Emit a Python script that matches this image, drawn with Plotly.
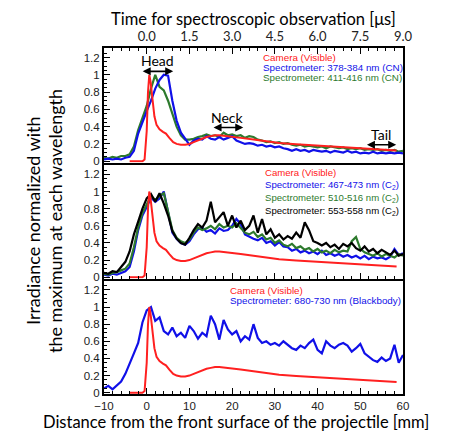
import plotly.graph_objects as go

# ---------------- data ----------------
x_spec = list(range(-10, 61))  # mm

cn_378_384 = [0.02, 0.03, 0.02, 0.03, 0.02, 0.04, 0.05, 0.12, 0.32, 0.46,
              0.58, 0.70, 0.84, 0.94, 1.00, 0.99, 0.70, 0.47, 0.33, 0.26,
              0.19, 0.24, 0.26, 0.25, 0.29, 0.26, 0.25, 0.28, 0.25, 0.27,
              0.29, 0.24, 0.22, 0.20, 0.21, 0.20, 0.18, 0.19, 0.17, 0.18,
              0.16, 0.17, 0.15, 0.14, 0.12, 0.14, 0.12, 0.13, 0.11, 0.13,
              0.12, 0.11, 0.12, 0.10, 0.12, 0.11, 0.10, 0.12, 0.10, 0.11,
              0.09, 0.10, 0.09, 0.11, 0.09, 0.10, 0.09, 0.10, 0.09, 0.10, 0.09]

cn_411_416 = [0.04, 0.03, 0.05, 0.04, 0.06, 0.06, 0.08, 0.17, 0.36, 0.50,
              0.64, 0.84, 1.00, 0.86, 0.82, 0.70, 0.55, 0.40, 0.30, 0.25,
              0.25, 0.26, 0.28, 0.29, 0.31, 0.29, 0.30, 0.28, 0.33, 0.30,
              0.31, 0.29, 0.30, 0.27, 0.29, 0.28, 0.25, 0.24, 0.22, 0.23,
              0.21, 0.22, 0.20, 0.21, 0.19, 0.18, 0.19, 0.17, 0.18, 0.17,
              0.16, 0.17, 0.15, 0.17, 0.16, 0.15, 0.16, 0.14, 0.15, 0.14,
              0.15, 0.13, 0.14, 0.13, 0.14, 0.12, 0.13, 0.12, 0.13, 0.11, 0.12]

c2_467_473 = [0.03, 0.02, 0.04, 0.03, 0.05, 0.07, 0.12, 0.30, 0.55, 0.72,
              0.82, 0.93, 0.88, 0.92, 1.00, 0.74, 0.52, 0.45, 0.40, 0.38,
              0.42, 0.50, 0.56, 0.58, 0.53, 0.55, 0.51, 0.57, 0.54, 0.55,
              0.60, 0.68, 0.62, 0.50, 0.47, 0.45, 0.43, 0.46, 0.40, 0.42,
              0.37, 0.41, 0.36, 0.35, 0.31, 0.33, 0.29, 0.31, 0.28, 0.30,
              0.27, 0.31, 0.26, 0.28, 0.25, 0.27, 0.24, 0.26, 0.23, 0.25,
              0.22, 0.25, 0.21, 0.24, 0.22, 0.23, 0.21, 0.24, 0.33, 0.26, 0.28]

c2_510_516 = [0.04, 0.03, 0.05, 0.06, 0.08, 0.10, 0.16, 0.35, 0.58, 0.75,
              0.85, 0.95, 0.90, 0.95, 0.98, 0.78, 0.55, 0.46, 0.42, 0.40,
              0.44, 0.52, 0.58, 0.55, 0.57, 0.60, 0.56, 0.62, 0.58, 0.60,
              0.58, 0.63, 0.57, 0.52, 0.50, 0.53, 0.47, 0.50, 0.44, 0.46,
              0.40, 0.43, 0.38, 0.36, 0.39, 0.34, 0.36, 0.32, 0.34, 0.30,
              0.33, 0.29, 0.31, 0.28, 0.32, 0.29, 0.31, 0.30, 0.42, 0.47,
              0.33, 0.29, 0.27, 0.25, 0.28, 0.24, 0.27, 0.25, 0.23, 0.27, 0.25]

c2_553_558 = [0.05, 0.04, 0.07, 0.06, 0.12, 0.18, 0.30, 0.50, 0.65, 0.80,
              0.92, 0.97, 0.88, 0.98, 0.86, 0.72, 0.54, 0.45, 0.40, 0.38,
              0.46, 0.55, 0.62, 0.58, 0.66, 0.88, 0.64, 0.70, 0.76, 0.60,
              0.72, 0.58, 0.66, 0.55, 0.60, 0.72, 0.52, 0.68, 0.50, 0.56,
              0.46, 0.50, 0.44, 0.48, 0.45, 0.52, 0.46, 0.64, 0.55, 0.42,
              0.40, 0.37, 0.40, 0.35, 0.38, 0.33, 0.39, 0.36, 0.40, 0.34,
              0.31, 0.36, 0.30, 0.33, 0.28, 0.32, 0.29, 0.26, 0.31, 0.25, 0.27]

bb_680_730 = [0.05, 0.08, 0.04, 0.09, 0.13, 0.22, 0.35, 0.46, 0.58, 0.82,
              0.96, 1.00, 0.84, 0.88, 0.72, 0.68, 0.76, 0.66, 0.70, 0.64,
              0.78, 0.72, 0.63, 0.70, 0.66, 0.90, 0.80, 0.62, 0.85, 0.74,
              0.68, 0.72, 0.60, 0.66, 0.62, 0.80, 0.64, 0.58, 0.60, 0.56,
              0.58, 0.55, 0.60, 0.56, 0.52, 0.50, 0.55, 0.52, 0.58, 0.62,
              0.50, 0.46, 0.60, 0.55, 0.52, 0.56, 0.58, 0.55, 0.48, 0.52,
              0.57, 0.46, 0.42, 0.38, 0.36, 0.41, 0.37, 0.40, 0.56, 0.35, 0.44]

x_cam = [-4, -1, -0.5, 0, 0.3, 0.6, 0.9, 1.3, 1.8, 2.3, 3, 3.8, 4.5, 5.3,
         6.2, 7, 8, 9, 10, 11, 12, 13, 14, 15, 16, 17, 18, 20, 22, 25, 28,
         31, 35, 40, 45, 50, 55, 58.5]
camera = [0, 0, 0.02, 0.35, 0.80, 1.00, 0.92, 0.72, 0.52, 0.42, 0.37, 0.34,
          0.32, 0.27, 0.22, 0.20, 0.19, 0.19, 0.20, 0.22, 0.24, 0.26, 0.28,
          0.29, 0.30, 0.30, 0.295, 0.285, 0.27, 0.25, 0.23, 0.21, 0.195,
          0.18, 0.165, 0.15, 0.135, 0.125]

x_ticks = [-10, 0, 10, 20, 30, 40, 50, 60]
time_tick_labels = ["", "0.0", "1.5", "3.0", "4.5", "6.0", "7.5", "9.0"]
y_ticks = [0, 0.2, 0.4, 0.6, 0.8, 1, 1.2]

regions = ["Head", "Neck", "Tail"]
region_start = [-1.3, 15.3, 51.2]
region_end = [6.2, 22.6, 58.4]
region_level = [1.04, 0.39, 0.19]

# ---------------- figure ----------------
RED = "#ff2020"
BLUE = "#1010e8"
GREEN = "#2d7a2d"
BLACK = "#000000"

fig = go.Figure()

def add(x, y, color, ax, width=2.2):
    fig.add_trace(go.Scatter(x=x, y=y, mode="lines", line=dict(color=color, width=width),
                             xaxis=ax[0], yaxis=ax[1], showlegend=False, hoverinfo="skip"))

# panel 1
add(x_spec, cn_411_416, GREEN, ("x", "y"))
add(x_spec, cn_378_384, BLUE, ("x", "y"))
add(x_cam, camera, RED, ("x", "y"), 2.0)
# panel 2
add(x_spec, c2_467_473, BLUE, ("x2", "y2"))
add(x_spec, c2_510_516, GREEN, ("x2", "y2"))
add(x_spec, c2_553_558, BLACK, ("x2", "y2"))
add(x_cam, camera, RED, ("x2", "y2"), 2.0)
# panel 3
add(x_spec, bb_680_730, BLUE, ("x3", "y3"))
add(x_cam, camera, RED, ("x3", "y3"), 2.0)

H = 431
top_m, bot_m = 40, 45
plot_h = H - top_m - bot_m
def dom(t, b):
    return [1 - b / plot_h, 1 - t / plot_h]

tickfont = dict(family="Liberation Sans, Arial", size=11.5, color="#222")
common_x = dict(range=[-10, 60], showline=True, linewidth=2, linecolor="black", mirror=True,
                ticks="inside", ticklen=6, tickwidth=1, tickcolor="black", tickvals=x_ticks,
                minor=dict(dtick=2, ticks="inside", ticklen=3, tickcolor="black"),
                showgrid=False, zeroline=False)
common_y = dict(range=[-0.015, 1.31], showline=True, linewidth=2, linecolor="black", mirror=True,
                ticks="inside", ticklen=6, tickwidth=1, tickcolor="black", tickvals=y_ticks,
                minor=dict(dtick=0.05, ticks="inside", ticklen=3, tickcolor="black"),
                showgrid=False, zeroline=False, tickfont=tickfont)

fig.update_layout(
    width=450, height=H,
    margin=dict(l=96, r=55, t=top_m, b=bot_m),
    paper_bgcolor="white", plot_bgcolor="white",
    xaxis=dict(common_x, anchor="y", side="top", ticktext=time_tick_labels,
               tickfont=dict(family="Lato", size=13, color="#222"), ticklabelstandoff=0),
    xaxis2=dict(common_x, anchor="y2", matches="x", showticklabels=False),
    xaxis3=dict(common_x, anchor="y3", matches="x", tickfont=tickfont, ticklabelstandoff=0),
    yaxis=dict(common_y, domain=dom(0, 114.5), anchor="x"),
    yaxis2=dict(common_y, domain=dom(117, 230.5), anchor="x2"),
    yaxis3=dict(common_y, domain=dom(232.5, 346), anchor="x3"),
)

ann = []
# region arrows
for name, s, e, lv in zip(regions, region_start, region_end, region_level):
    ann.append(dict(x=e, y=lv, ax=s, ay=lv, xref="x", yref="y", axref="x", ayref="y",
                    text="", showarrow=True, arrowhead=2, arrowside="end+start",
                    arrowsize=1, arrowwidth=1.6, arrowcolor="black"))
    ann.append(dict(x=(s + e) / 2, y=lv + 0.12, xref="x", yref="y", text=name,
                    showarrow=False, font=dict(family="Lato", size=14, color="black")))

def px2paper_x(px):
    return (px - 96) / (450 - 96 - 55)
def px2paper_y(py):
    return (H - bot_m - py) / plot_h

def legend(lines, xpx, ypx, size=9.8):
    for i, (txt, col) in enumerate(lines):
        ann.append(dict(x=px2paper_x(xpx), y=px2paper_y(ypx[i]), xref="paper", yref="paper",
                        text=txt, showarrow=False, xanchor="left", yanchor="middle",
                        font=dict(family="Liberation Sans, Arial", size=size, color=col)))

legend([("Camera (Visible)", RED), ("Spectrometer: 378-384 nm (CN)", BLUE),
        ("Spectrometer: 411-416 nm (CN)", GREEN)], 253, (49.5, 59.5, 69.5))
legend([("Camera (Visible)", RED), ("Spectrometer: 467-473 nm (C<sub>2</sub>)", BLUE),
        ("Spectrometer: 510-516 nm (C<sub>2</sub>)", GREEN),
        ("Spectrometer: 553-558 nm (C<sub>2</sub>)", BLACK)], 255, (164, 176.5, 189.5, 203), 9.6)
legend([("Camera (Visible)", RED), ("Spectrometer: 680-730 nm (Blackbody)", BLUE)],
       220, (282, 292))

titlefont = dict(family="Lato", size=16.5, color="black")
ann.append(dict(x=px2paper_x(245), y=px2paper_y(11), xref="paper", yref="paper",
                text="Time for spectroscopic observation [μs]", showarrow=False,
                xanchor="center", yanchor="middle", font=titlefont))
ann.append(dict(x=px2paper_x(228), y=px2paper_y(414), xref="paper", yref="paper",
                text="Distance from the front surface of the projectile [mm]", showarrow=False,
                xanchor="center", yanchor="middle", font=titlefont))
ann.append(dict(x=px2paper_x(25), y=px2paper_y(213), xref="paper", yref="paper",
                text="Irradiance normalized with", showarrow=False, textangle=-90,
                xanchor="center", yanchor="middle", font=dict(family="Lato", size=18, color="black")))
ann.append(dict(x=px2paper_x(47), y=px2paper_y(213), xref="paper", yref="paper",
                text="the maximum at each wavelength", showarrow=False, textangle=-90,
                xanchor="center", yanchor="middle", font=dict(family="Lato", size=18, color="black")))

fig.update_layout(annotations=ann)
fig.write_html("out.html")
